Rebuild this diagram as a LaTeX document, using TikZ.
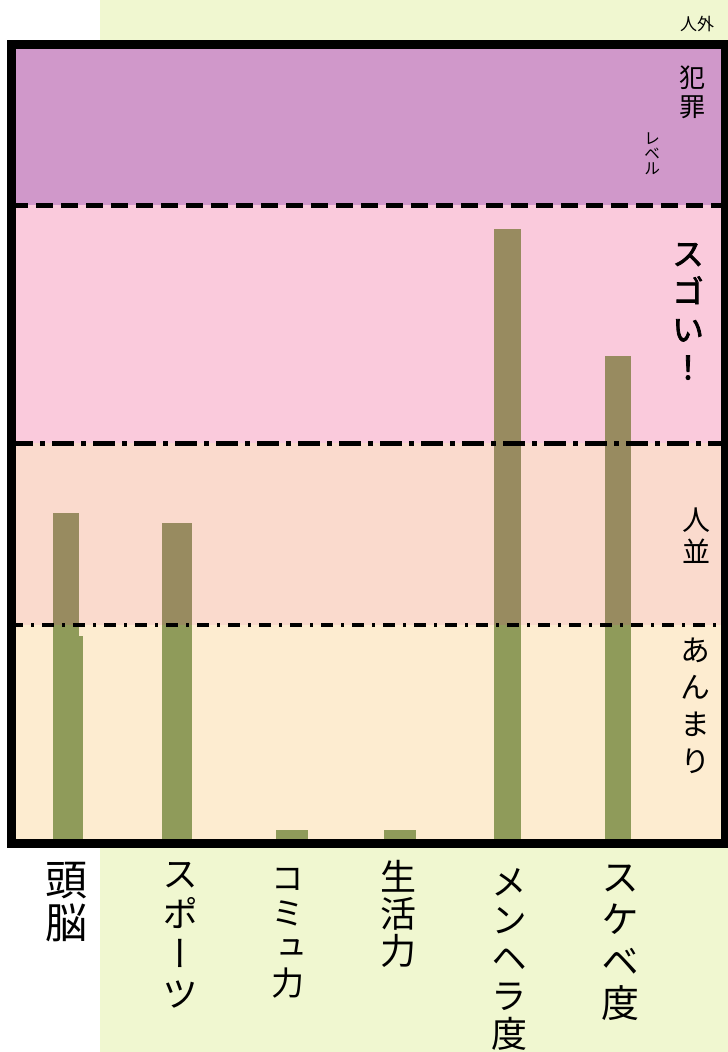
\documentclass[tikz,border=0pt]{standalone}
\usepackage{color}
\usepackage{fontspec}
\usepackage{tikz}
\newfontfamily\jpfont[RawFeature={+vert}]{Noto Sans CJK JP}
\newfontfamily\jpbfont[RawFeature={+vert},FakeBold=2.5]{Noto Sans CJK JP}
\newfontfamily\jphfont{Noto Sans CJK JP}
\definecolor{bgyellow}{RGB}{240,247,208}
\definecolor{bandpurple}{RGB}{208,152,202}
\definecolor{bandpink}{RGB}{250,202,220}
\definecolor{bandsalmon}{RGB}{250,218,205}
\definecolor{bandcream}{RGB}{253,236,208}
\definecolor{barbrown}{RGB}{152,139,96}
\definecolor{bargreen}{RGB}{143,155,90}

\begin{document}
\begin{tikzpicture}[x=1pt,y=-1pt,
    vtext/.style 2 args={font=\jpfont\fontsize{#1}{#2}\selectfont,align=center,inner sep=0pt,anchor=north}]
    \useasboundingbox (0,0) rectangle (728,1052);
    \fill[white] (0,0) rectangle (728,1052);
    \fill[bgyellow] (100,0) rectangle (728,1052);
    \fill[bandpurple] (11,44) rectangle (725,205);
    \fill[bandpink] (11,205) rectangle (725,443);
    \fill[bandsalmon] (11,443) rectangle (725,625);
    \fill[bandcream] (11,625) rectangle (725,843);
    \foreach \l/\r/\t in {53/79/513, 162/192/523, 276/308/830, 384/416/830, 494/521/229, 605/631/356} {
        \pgfmathsetmacro\m{max(\t,625)}
        \fill[barbrown] (\l,\t) rectangle (\r,\m);
        \fill[bargreen] (\l,\m) rectangle (\r,839);
    }
    \fill[bargreen] (79,636) rectangle (83,839);
    \draw[line width=5pt, dash pattern=on 17pt off 8pt] (11,205) -- (725,205);
    \draw[line width=5pt, dash pattern=on 22pt off 7pt on 5pt off 7pt] (11,443) -- (725,443);
    \draw[line width=3.5pt, dash pattern=on 12pt off 8pt on 3pt off 8pt] (11,625) -- (725,625);
    \draw[line width=9pt] (11,44) rectangle (725,843.5);
    \node[font=\jphfont\fontsize{17}{20}\selectfont, inner sep=0pt] (outside) at (697,24) {人外};
    \node[vtext={26}{29}] (crime) at (692,66) {犯\\罪};
    \node[vtext={16}{15}] (level) at (652,133) {レ\\ベ\\ル};
    \node[vtext={32}{38}, font=\jpbfont\fontsize{32}{38}\selectfont] (great) at (688,243) {ス\\ゴ\\い\\！};
    \node[vtext={28}{32}] (average) at (696,508) {人\\並};
    \node[vtext={30}{37}] (notmuch) at (695,638) {あ\\ん\\ま\\り};
    \node[vtext={42}{43}] (brain) at (66,862) {頭\\脳};
    \node[vtext={36}{40}] (sports) at (180,862) {ス\\ポ\\ー\\ツ};
    \node[vtext={33}{35}] (commu) at (288,868) {コ\\ミ\\ュ\\力};
    \node[vtext={36}{37}] (life) at (398,860) {生\\活\\力};
    \node[vtext={36}{38}] (menhera) at (509,868) {メ\\ン\\ヘ\\ラ\\度};
    \node[vtext={38}{42}] (sukebe) at (620,865) {ス\\ケ\\ベ\\度};
\end{tikzpicture}
\end{document}
